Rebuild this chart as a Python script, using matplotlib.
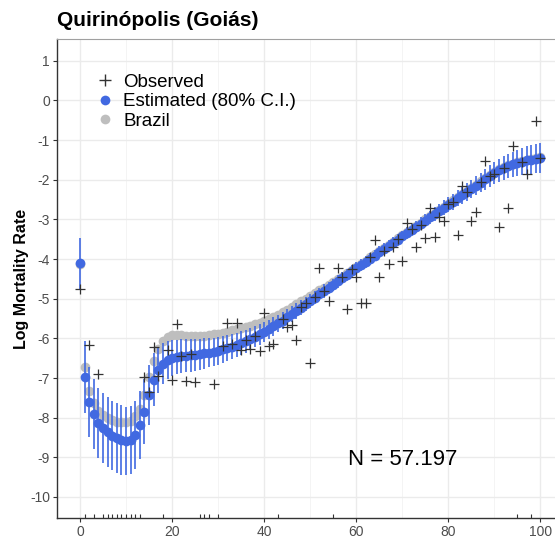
import matplotlib
matplotlib.use('Agg')
import matplotlib.pyplot as plt
import numpy as np
from matplotlib.lines import Line2D

plt.rcParams['font.family'] = ['Liberation Sans', 'DejaVu Sans']
plt.rcParams['axes.unicode_minus'] = False

# idades 0..100
ages = np.arange(0, 101)

# estimativa (log da taxa de mortalidade)
estimated = [
    -4.11, -6.97, -7.60, -7.91, -8.14, -8.27, -8.37, -8.45, -8.51, -8.56,
    -8.59, -8.56, -8.43, -8.18, -7.85, -7.43, -7.04, -6.79, -6.64, -6.55,
    -6.50, -6.47, -6.45, -6.44, -6.43, -6.42, -6.40, -6.38, -6.36, -6.34,
    -6.31, -6.28, -6.25, -6.21, -6.17, -6.12, -6.07, -6.02, -5.96, -5.90,
    -5.84, -5.77, -5.70, -5.62, -5.55, -5.47, -5.39, -5.31, -5.23, -5.14,
    -5.05, -4.97, -4.89, -4.81, -4.73, -4.65, -4.56, -4.48, -4.40, -4.31,
    -4.23, -4.15, -4.07, -3.99, -3.91, -3.83, -3.75, -3.67, -3.59, -3.51,
    -3.43, -3.35, -3.27, -3.19, -3.11, -3.03, -2.95, -2.87, -2.79, -2.71,
    -2.63, -2.55, -2.47, -2.39, -2.31, -2.23, -2.15, -2.07, -1.99, -1.91,
    -1.83, -1.76, -1.70, -1.65, -1.61, -1.57, -1.54, -1.51, -1.49, -1.47,
    -1.45,
]

# meia largura do intervalo de 80%
ci_half = [
    0.64, 0.90, 0.88, 0.88, 0.88, 0.88, 0.88, 0.88, 0.88, 0.88,
    0.86, 0.86, 0.86, 0.85, 0.82, 0.75, 0.66, 0.58, 0.52, 0.48,
    0.46, 0.44, 0.43, 0.42, 0.41, 0.40, 0.39, 0.38, 0.37, 0.36,
    0.35, 0.34, 0.33, 0.32, 0.31, 0.30, 0.29, 0.28, 0.27, 0.26,
    0.25, 0.24, 0.23, 0.22, 0.21, 0.20, 0.20, 0.19, 0.19, 0.18,
    0.18, 0.17, 0.17, 0.17, 0.16, 0.16, 0.16, 0.15, 0.15, 0.15,
    0.15, 0.15, 0.15, 0.15, 0.15, 0.15, 0.15, 0.15, 0.15, 0.15,
    0.15, 0.15, 0.16, 0.16, 0.16, 0.17, 0.17, 0.18, 0.18, 0.19,
    0.19, 0.20, 0.20, 0.21, 0.22, 0.23, 0.24, 0.25, 0.26, 0.27,
    0.28, 0.29, 0.30, 0.31, 0.32, 0.33, 0.34, 0.35, 0.36, 0.37,
    0.38,
]

# Brasil
brazil = [
    -4.12, -6.72, -7.33, -7.62, -7.82, -7.94, -8.02, -8.07, -8.10, -8.12,
    -8.12, -8.08, -7.97, -7.78, -7.42, -6.98, -6.57, -6.27, -6.07, -5.97,
    -5.92, -5.91, -5.92, -5.93, -5.94, -5.94, -5.94, -5.93, -5.92, -5.90,
    -5.88, -5.86, -5.83, -5.80, -5.77, -5.74, -5.71, -5.68, -5.64, -5.60,
    -5.56, -5.51, -5.46, -5.40, -5.34, -5.28, -5.21, -5.14, -5.07, -5.00,
    -4.93, -4.86, -4.79, -4.72, -4.65, -4.58, -4.51, -4.44, -4.36, -4.28,
    -4.20, -4.12, -4.04, -3.96, -3.88, -3.80, -3.72, -3.64, -3.56, -3.48,
    -3.40, -3.32, -3.24, -3.16, -3.08, -3.00, -2.92, -2.84, -2.76, -2.68,
    -2.60, -2.52, -2.44, -2.36, -2.28, -2.20, -2.12, -2.04, -1.96, -1.88,
    -1.81, -1.74, -1.68, -1.63, -1.59, -1.55, -1.52, -1.49, -1.47, -1.45,
    -1.43,
]

# observado (idades com obitos)
obs_age = [0, 2, 4, 14, 15, 16, 17, 19, 20, 21, 22, 23, 24, 25, 29,
           31, 32, 33, 34, 35, 36, 37, 38, 39, 40, 41, 42, 44, 45, 46,
           47, 48, 49, 50, 51, 52, 53, 54, 56, 57, 58, 59, 60, 61, 62,
           63, 64, 65, 66, 67, 68, 69, 70, 71, 72, 73, 74, 75, 76, 77,
           78, 79, 80, 81, 82, 83, 84, 85, 86, 87, 88, 89, 90, 91, 92,
           93, 94, 96, 97, 99, 100]
obs_val = [-4.76, -6.17, -6.91, -6.98, -7.35, -6.23, -6.95, -6.30, -7.04, -5.65,
           -6.45, -7.08, -6.40, -7.11, -7.14,
           -6.20, -5.61, -6.15, -5.61, -6.29, -6.05, -6.27, -5.95, -6.32, -5.35,
           -6.19, -6.13, -5.50, -5.71, -5.67,
           -6.05, -5.20, -5.10, -6.63, -4.95, -4.22, -4.80, -5.05, -4.22, -4.45,
           -5.26, -4.25, -4.45, -5.10, -5.10,
           -3.95, -3.53, -4.45, -3.80, -4.13, -3.70, -3.50, -4.04, -3.09, -3.25,
           -3.70, -3.15, -3.47, -2.70, -3.45,
           -2.95, -3.03, -2.60, -2.55, -3.39, -2.16, -2.30, -3.03, -2.82, -2.05,
           -1.53, -1.90, -1.85, -3.20, -1.70,
           -2.72, -1.16, -1.55, -1.85, -0.53, -1.45]

# idades sem obitos (rug)
rug_age = [1, 3, 5, 6, 7, 8, 9, 10, 11, 12, 13, 18, 26, 27, 28, 30, 43, 55, 95, 98]

blue = '#4169E1'
grey = '#BEBEBE'

fig = plt.figure(figsize=(5.55, 5.42), dpi=100)
ax = fig.add_axes((57 / 555, 1 - 518 / 542, (563.5 - 57) / 555, (518 - 39) / 542))

est = np.array(estimated)
half = np.array(ci_half)
ax.plot(ages, brazil, 'o', color=grey, ms=7, mew=0, zorder=2)
ax.vlines(ages, est - half, est + half, color=blue, lw=1.2, zorder=3)
ax.plot(ages, est, 'o', color=blue, ms=7, mew=0, zorder=4)
ax.plot(obs_age, obs_val, '+', color='#333333', ms=6.5, mew=0.9, zorder=5)

trans = ax.get_xaxis_transform()
ax.vlines(rug_age, 0, 0.009, transform=trans, color='#333333', lw=0.8, zorder=5)

ax.set_xlim(-5, 105)
ax.set_ylim(-10.53, 1.55)
ax.set_xticks(np.arange(0, 101, 20))
ax.set_xticks(np.arange(10, 101, 20), minor=True)
ax.set_yticks(np.arange(-10, 2, 1))
ax.grid(which='major', color='#EBEBEB', lw=1.0, zorder=0)
ax.grid(which='minor', axis='x', color='#F2F2F2', lw=0.6, zorder=0)
ax.set_axisbelow(True)
ax.tick_params(which='major', length=3, width=0.8, color='#333333',
               labelsize=10, labelcolor='#4D4D4D', pad=2)
ax.tick_params(which='minor', length=0)
for s in ['left', 'bottom']:
    ax.spines[s].set_color('#333333')
    ax.spines[s].set_linewidth(1.0)
ax.spines['top'].set_color('#A0A0A0')
ax.spines['right'].set_color('#A0A0A0')

ax.set_ylabel('Log Mortality Rate', fontsize=11.5, fontweight='bold', labelpad=1)
fig.text(57 / 555, 1 - 20 / 542, 'Quirinópolis (Goiás)', fontsize=15,
         fontweight='bold', ha='left', va='center')

ax.text(70, -9.05, 'N = 57.197', fontsize=16, ha='center', va='center')

handles = [
    Line2D([], [], ls='', marker='+', color='#333333', ms=8, mew=1.0),
    Line2D([], [], ls='', marker='o', color=blue, ms=7, mew=0),
    Line2D([], [], ls='', marker='o', color=grey, ms=7, mew=0),
]
ax.legend(handles, ['Observed', 'Estimated (80% C.I.)', 'Brazil'],
          loc='upper left', bbox_to_anchor=(0.051, 0.955), frameon=False,
          fontsize=13.5, handlelength=1.0, handletextpad=0.45,
          labelspacing=0.12, borderpad=0.2)

fig.savefig('out.png', dpi=100)
